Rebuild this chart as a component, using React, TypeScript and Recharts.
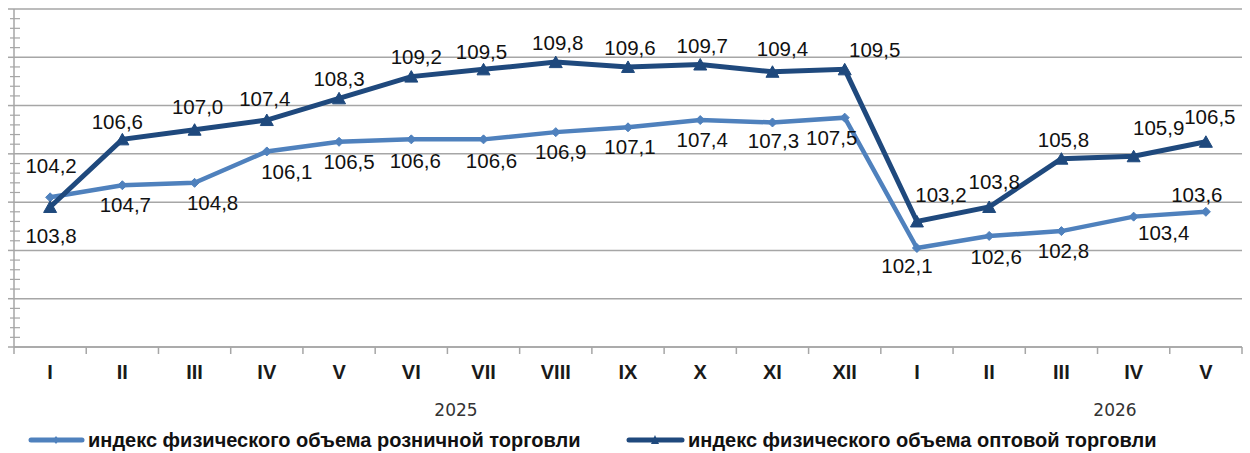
import React from 'react';
import { LineChart, Line, XAxis, YAxis, CartesianGrid, LabelList } from 'recharts';

// ---- data ----
const months = ['I', 'II', 'III', 'IV', 'V', 'VI', 'VII', 'VIII', 'IX', 'X', 'XI', 'XII', 'I', 'II', 'III', 'IV', 'V'];
const monthYears = ['2025', '2025', '2025', '2025', '2025', '2025', '2025', '2025', '2025', '2025', '2025', '2025', '2026', '2026', '2026', '2026', '2026'];
const retail = [104.2, 104.7, 104.8, 106.1, 106.5, 106.6, 106.6, 106.9, 107.1, 107.4, 107.3, 107.5, 102.1, 102.6, 102.8, 103.4, 103.6];
const wholesale = [103.8, 106.6, 107.0, 107.4, 108.3, 109.2, 109.5, 109.8, 109.6, 109.7, 109.4, 109.5, 103.2, 103.8, 105.8, 105.9, 106.5];
const yearLabels = ['2025', '2026'];
const seriesNames = ['индекс физического объема розничной торговли', 'индекс физического объема оптовой торговли'];
const yMajorTicks = [98, 100, 102, 104, 106, 108, 110, 112];

// ---- styling / label placement (not data) ----
const retailLabelOffsets: [number, number][] = [
  [1, -31], [3, 20], [18, 20], [20, 20], [10, 20], [4, 21], [8, 21], [5, 20], [2, 20], [2, 20], [1, 18], [-13, 20],
  [-10, 18], [7, 21], [2, 20], [30, 16], [-9, -17],
];
const wholesaleLabelOffsets: [number, number][] = [
  [1, 29], [-5, -18], [3, -23], [-2, -21], [0, -20], [5, -20], [-2, -18], [2, -19], [2, -19], [2, -19], [10, -23], [30, -20],
  [24, -27], [5, -25], [2, -19], [25, -28], [4, -25],
];

const LIGHT = '#4f81bd';
const DARK = '#1f497d';
const GRID = '#a6a6a6';
const FONT = '"Liberation Sans", Arial, sans-serif';

const W = 1250;
const H = 453;
const MARGIN = { top: 9, right: 8, bottom: 76, left: 0 };
const Y_AXIS_W = 14;
const X_AXIS_H = 30;
const PLOT_LEFT = MARGIN.left + Y_AXIS_W;
const PLOT_RIGHT = W - MARGIN.right;
const STEP = (PLOT_RIGHT - PLOT_LEFT) / months.length;

const data = months.map((m, i) => ({
  key: `${monthYears[i]}-${m}`,
  month: m,
  retail: retail[i],
  wholesale: wholesale[i],
}));

const minorTicks: number[] = [];
for (let i = 0; i < yMajorTicks.length - 1; i++) {
  const a = yMajorTicks[i];
  const b = yMajorTicks[i + 1];
  for (let k = 0; k < 5; k++) minorTicks.push(+(a + ((b - a) * k) / 5).toFixed(2));
}
minorTicks.push(yMajorTicks[yMajorTicks.length - 1]);

const fmt = (v: number) => v.toFixed(1).replace('.', ',');

const YTick = (props: any) => {
  const { x, y, payload } = props;
  const isMajor = yMajorTicks.includes(payload.value);
  if (isMajor) {
    return <line x1={x - 6} x2={x} y1={y} y2={y} stroke={GRID} strokeWidth={1.5} />;
  }
  return <line x1={x - 4} x2={x + 6} y1={y} y2={y} stroke={GRID} strokeWidth={1.2} />;
};

const XTick = (props: any) => {
  const { x, y, payload, index } = props;
  const label = data[payload.index ?? index]?.month ?? '';
  const isLast = (payload.index ?? index) === months.length - 1;
  return (
    <g>
      <line x1={x - STEP / 2} x2={x - STEP / 2} y1={y} y2={y + 7} stroke={GRID} strokeWidth={1.5} />
      {isLast && <line x1={x + STEP / 2} x2={x + STEP / 2} y1={y} y2={y + 7} stroke={GRID} strokeWidth={1.5} />}
      <text x={x} y={y + 32} textAnchor="middle" fontFamily={FONT} fontWeight="bold" fontSize={20} fill="#1a1a1a">
        {label}
      </text>
    </g>
  );
};

const makeLabel = (offsets: [number, number][]) => (props: any) => {
  const { x, y, value, index } = props;
  const [dx, dy] = offsets[index] || [0, -20];
  return (
    <text x={x + dx} y={y + dy} dy="0.35em" textAnchor="middle" fontFamily={FONT} fontSize={20.5} fill="#111">
      {fmt(Number(value))}
    </text>
  );
};

const Diamond = (props: any) => {
  const { cx, cy, index } = props;
  if (cx == null || cy == null) return null;
  const r = 4.5;
  return <path key={`d-${index}`} d={`M${cx},${cy - r}L${cx + r},${cy}L${cx},${cy + r}L${cx - r},${cy}Z`} fill={LIGHT} stroke={LIGHT} strokeWidth={1} />;
};

const Triangle = (props: any) => {
  const { cx, cy, index } = props;
  if (cx == null || cy == null) return null;
  const w = 6.5;
  return <path key={`t-${index}`} d={`M${cx},${cy - 6}L${cx + w},${cy + 5.5}L${cx - w},${cy + 5.5}Z`} fill={DARK} stroke={DARK} strokeWidth={1} />;
};

export default function App() {
  return (
    <div style={{ position: 'absolute', left: 0, top: 0, width: W, height: H, background: '#fff' }}>
      <LineChart width={W} height={H} data={data} margin={MARGIN}>
        <CartesianGrid horizontal vertical={false} horizontalValues={yMajorTicks} stroke={GRID} strokeWidth={1.5} />
        <XAxis
          dataKey="key"
          scale="band"
          interval={0}
          height={X_AXIS_H}
          tickSize={0}
          tickMargin={0}
          tickLine={false}
          axisLine={{ stroke: GRID, strokeWidth: 1.5 }}
          tick={<XTick />}
        />
        <YAxis
          width={Y_AXIS_W}
          domain={[98, 112]}
          ticks={minorTicks}
          interval={0}
          tickSize={0}
          tickMargin={0}
          tickLine={false}
          axisLine={{ stroke: GRID, strokeWidth: 1.5 }}
          tick={<YTick />}
          allowDecimals
        />
        <Line
          dataKey="retail"
          name={seriesNames[0]}
          stroke={LIGHT}
          strokeWidth={4.5}
          dot={<Diamond />}
          activeDot={false}
          isAnimationActive={false}
        >
          <LabelList dataKey="retail" content={makeLabel(retailLabelOffsets)} />
        </Line>
        <Line
          dataKey="wholesale"
          name={seriesNames[1]}
          stroke={DARK}
          strokeWidth={5}
          dot={<Triangle />}
          activeDot={false}
          isAnimationActive={false}
        >
          <LabelList dataKey="wholesale" content={makeLabel(wholesaleLabelOffsets)} />
        </Line>
        {/* year labels */}
        <text x={456} y={410} dy="0.35em" textAnchor="middle" fontFamily='"DejaVu Sans", sans-serif' fontSize={17} fill="#333">
          {yearLabels[0]}
        </text>
        <text x={1115} y={410} dy="0.35em" textAnchor="middle" fontFamily='"DejaVu Sans", sans-serif' fontSize={17} fill="#333">
          {yearLabels[1]}
        </text>
        {/* legend */}
        <g>
          <line x1={31} x2={82} y1={440} y2={440} stroke={LIGHT} strokeWidth={5} strokeLinecap="round" />
          <path d="M56,436L59,440L56,444L53,440Z" fill={LIGHT} />
          <text x={88} y={440} dy="0.35em" fontFamily={FONT} fontWeight="bold" fontSize={20} fill="#111">
            {seriesNames[0]}
          </text>
          <line x1={629} x2={682} y1={440} y2={440} stroke={DARK} strokeWidth={5} strokeLinecap="round" />
          <path d="M655,435L659,444L651,444Z" fill={DARK} />
          <text x={688} y={440} dy="0.35em" fontFamily={FONT} fontWeight="bold" fontSize={20} fill="#111">
            {seriesNames[1]}
          </text>
        </g>
      </LineChart>
    </div>
  );
}
